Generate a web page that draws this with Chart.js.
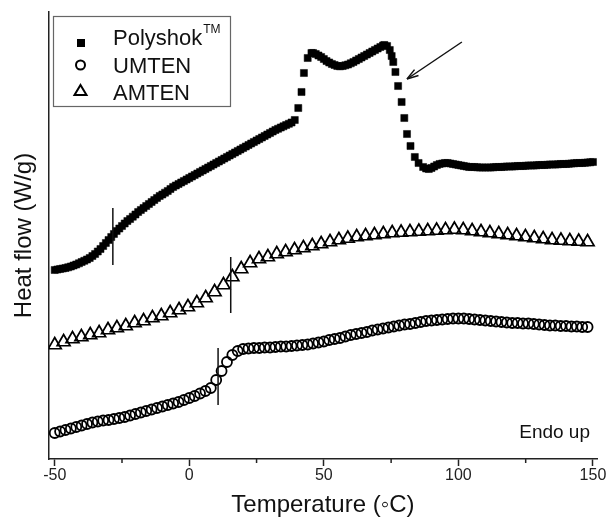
<!DOCTYPE html>
<html>
<head>
<meta charset="utf-8">
<script src="https://cdn.jsdelivr.net/npm/chart.js@4/dist/chart.umd.min.js"></script>
<style>
  html, body { margin: 0; padding: 0; background: #fff; }
</style>
</head>
<body>
<canvas id="myChart" width="608" height="518"></canvas>
<script>
// Polyshok (filled squares)
const polyT = [
  -50, -49, -48, -47, -46, -45, -44, -43, -42, -41,
  -40, -39, -38, -37, -36, -35, -34, -33, -32, -31,
  -30, -29, -28, -27, -26, -25, -24, -23, -22, -21,
  -20, -19, -18, -17, -16, -15, -14, -13, -12, -11,
  -10, -9, -8, -7, -6, -5, -4, -3, -2, -1,
  0, 1, 2, 3, 4, 5, 6, 7, 8, 9,
  10, 11, 12, 13, 14, 15, 16, 17, 18, 19,
  20, 21, 22, 23, 24, 25, 26, 27, 28, 29,
  30, 31, 32, 33, 34, 35, 36, 37, 38,
  39.2, 40.5, 41.7, 42.6, 44, 45.4,
  46, 47, 48, 49, 50, 51, 52, 53, 54, 55,
  56, 57, 58, 59, 60, 61, 62, 63, 64, 65,
  66, 67, 68, 69, 70, 71, 72, 72.5, 73.5, 74.5, 75.2,
  75.8, 76.6, 77.6, 78.9, 79.9, 80.9, 82.2, 83.8, 85.2, 86.9,
  88, 89, 90, 91, 92, 93, 94, 95, 96, 97,
  98, 99, 100, 101, 102, 103, 104, 105, 106, 107,
  108, 109, 110, 111, 112, 113, 114, 115, 116, 117,
  118, 119, 120, 121, 122, 123, 124, 125, 126, 127,
  128, 129, 130, 131, 132, 133, 134, 135, 136, 137,
  138, 139, 140, 141, 142, 143, 144, 145, 146, 147, 148, 149, 150];
const polyHF = [
  230, 230.5, 231, 231.5, 232, 232.7, 233.5, 234.5, 235.5, 236.7,
  238, 239.2, 240.5, 242, 244, 246, 248.5, 251, 254, 257,
  260, 263, 266, 269, 271.5, 274, 276.5, 279, 281, 283.3,
  285.5, 288, 290, 292, 294, 296, 298, 300, 302, 304,
  305.5, 307.3, 309, 311, 313, 314.5, 316, 317.5, 319, 320.5,
  322, 323.5, 325, 326.5, 328, 329.5, 331, 332.5, 334, 335.5,
  337, 338.5, 340, 341.5, 343, 344.5, 346, 347.5, 349, 350.5,
  352, 353.5, 355, 356.5, 358, 359.5, 361, 362.5, 364, 365.5,
  367, 368.5, 370, 371.2, 372.5, 373.7, 375, 376.2, 377.5,
  380, 392, 408, 427, 442, 447,
  447, 446, 444.5, 443, 441, 439, 437.5, 436, 435, 434,
  433.7, 434, 434.7, 435.5, 436.7, 438, 439.5, 441, 442.5, 444,
  445.5, 447, 448.5, 450, 451.5, 453, 454.5, 455, 454, 450, 444,
  438, 428, 414, 398, 382, 366, 354, 343, 337, 333,
  331.5, 331, 332, 333.5, 335, 336, 336.5, 337, 337, 336.5,
  336, 335.5, 335, 334.5, 334, 333.5, 333, 333, 333, 332.7,
  332.5, 332.5, 332.5, 332.5, 332.5, 332.7, 333, 333, 333, 333.2,
  333.5, 333.5, 333.5, 333.7, 334, 334, 334, 334.2, 334.5, 334.5,
  334.5, 334.7, 335, 335, 335, 335.2, 335.5, 335.5, 335.5, 335.7,
  336, 336, 336, 336.2, 336.5, 336.7, 337, 337, 337, 337.2, 337.5, 337.7, 338];

// UMTEN (open circles)
const umtenT = [-50, -48, -46, -44, -42, -40, -38, -36, -34, -32, -30, -28, -26, -24, -22, -20, -18, -16, -14, -12,
  -10, -8, -6, -4, -2, 0, 2, 4, 6, 8, 10, 12, 14, 16, 18, 20, 22, 24, 26, 28, 30, 32, 34, 36, 38, 40, 42, 44, 46, 48,
  50, 52, 54, 56, 58, 60, 62, 64, 66, 68, 70, 72, 74, 76, 78, 80, 82, 84, 86, 88, 90, 92, 94, 96, 98,
  100, 102, 104, 106, 108, 110, 112, 114, 116, 118, 120, 122, 124, 126, 128, 130, 132, 134, 136, 138, 140, 142, 144, 146, 148];
const umtenHF = [67, 68.5, 70, 71.5, 73, 74.5, 76, 77.5, 78.5, 79.5, 80, 81, 82, 83, 84.5, 86, 87.5, 89, 90.5, 92,
  93.5, 95, 96.5, 98, 100, 102, 104, 106.5, 109, 112, 120, 129, 138, 145, 149, 151, 151.5, 152, 152, 152.5, 152.5, 153, 153.5, 153.5, 154, 154.5, 155, 155.5, 156.5, 157.5,
  158.5, 160, 161, 162, 163.5, 165, 166, 167, 168, 169.5, 170.5, 171.5, 172.5, 173.5, 174.5, 175.5, 176, 177, 178, 179, 179.5, 180, 180.5, 181, 181.5,
  181.5, 181.5, 181, 180.5, 180, 179.5, 179, 178.5, 178, 177.5, 177, 177, 176.5, 176.5, 176, 175.5, 175, 174.5, 174.5, 174, 174, 173.5, 173.5, 173, 173];

// AMTEN (open triangles)
const amtenT = [-50, -46.7, -43.4, -40.1, -36.8, -33.5, -30.2, -26.9, -23.6, -20.3, -17, -13.7, -10.4, -7.1, -3.8, -0.5,
  2.8, 6.1, 9.4, 12.7, 16, 19.3, 22.6, 25.9, 29.2, 32.5, 35.8, 39.1, 42.4, 45.7, 49, 52.3, 55.6, 58.9, 62.2, 65.5,
  68.8, 72.1, 75.4, 78.7, 82, 85.3, 88.6, 91.9, 95.2, 98.5, 101.8, 105.1, 108.4, 111.7, 115, 118.3, 121.6, 124.9,
  128.2, 131.5, 134.8, 138.1, 141.4, 144.7, 148];
const amtenHF = [155, 158, 161, 163, 165, 167, 170, 172, 174, 177, 179, 182, 184, 187, 190, 193,
  197, 202, 208, 215, 223, 231, 237, 241, 243, 246, 248, 250, 252, 254, 256, 258, 260, 261.5, 263, 264,
  265, 266, 267, 267.5, 268, 268.5, 269, 269.5, 270, 270.5, 270, 269, 268, 267, 266, 265, 264, 263,
  262, 261, 260, 259.5, 259, 258.5, 258];

// glass transition markers: [temperature, low, high]
const tgPoly = [-28.4, 235, 292];
const tgAmten = [15.4, 187, 243];
const tgUmten = [10.7, 95, 152];

const xTicks = [-50, -25, 0, 25, 50, 75, 100, 125, 150];
const arrowFrom = [101.3, 458];
const arrowTo = [80.9, 421];

const FONT = "'Liberation Sans', Arial, Helvetica, sans-serif";
const INK = '#111';

function pts(xs, ys) {
  return xs.map((x, i) => ({ x: x, y: ys[i] }));
}
function tgLine(tg) {
  return {
    data: [{ x: tg[0], y: tg[1] }, { x: tg[0], y: tg[2] }],
    showLine: true, borderColor: INK, borderWidth: 1.5, pointRadius: 0
  };
}

const decorPlugin = {
  id: 'decor',
  afterDraw(chart) {
    const ctx = chart.ctx;
    const xs = chart.scales.x, ys = chart.scales.y;
    const area = chart.chartArea;
    ctx.save();

    // minor ticks
    ctx.strokeStyle = '#222';
    ctx.lineWidth = 1.5;
    xTicks.filter(v => v % 50 !== 0).forEach(v => {
      const px = xs.getPixelForValue(v);
      ctx.beginPath();
      ctx.moveTo(px, area.bottom);
      ctx.lineTo(px, area.bottom + 4);
      ctx.stroke();
    });

    // arrow
    const x1 = xs.getPixelForValue(arrowFrom[0]), y1 = ys.getPixelForValue(arrowFrom[1]);
    const x2 = xs.getPixelForValue(arrowTo[0]), y2 = ys.getPixelForValue(arrowTo[1]);
    ctx.strokeStyle = INK;
    ctx.lineWidth = 1.5;
    ctx.beginPath();
    ctx.moveTo(x1, y1);
    ctx.lineTo(x2, y2);
    ctx.stroke();
    const ang = Math.atan2(y2 - y1, x2 - x1);
    ctx.beginPath();
    ctx.moveTo(x2, y2);
    ctx.lineTo(x2 - 12 * Math.cos(ang - 0.3), y2 - 12 * Math.sin(ang - 0.3));
    ctx.moveTo(x2, y2);
    ctx.lineTo(x2 - 12 * Math.cos(ang + 0.3), y2 - 12 * Math.sin(ang + 0.3));
    ctx.stroke();

    // Endo up
    ctx.fillStyle = INK;
    ctx.font = '19px ' + FONT;
    ctx.textAlign = 'right';
    ctx.textBaseline = 'alphabetic';
    ctx.fillText('Endo up', area.right - 7, 438);

    // legend box
    ctx.strokeStyle = '#666';
    ctx.lineWidth = 1.2;
    ctx.strokeRect(53.5, 16.5, 177, 90);

    ctx.fillStyle = '#000';
    ctx.fillRect(77, 39, 8, 8);
    ctx.strokeStyle = '#000';
    ctx.lineWidth = 2;
    ctx.beginPath();
    ctx.arc(80.5, 65, 4.5, 0, Math.PI * 2);
    ctx.stroke();
    ctx.beginPath();
    ctx.moveTo(80.5, 85);
    ctx.lineTo(86.5, 95);
    ctx.lineTo(74.5, 95);
    ctx.closePath();
    ctx.stroke();

    ctx.fillStyle = INK;
    ctx.textAlign = 'left';
    ctx.font = '22px ' + FONT;
    ctx.fillText('Polyshok', 113, 45);
    const w = ctx.measureText('Polyshok').width;
    ctx.font = '12px ' + FONT;
    ctx.fillText('TM', 113 + w + 1, 33);
    ctx.font = '22px ' + FONT;
    ctx.fillText('UMTEN', 113, 73);
    ctx.fillText('AMTEN', 113, 100);
    ctx.restore();
  }
};

const ctx = document.getElementById('myChart').getContext('2d');
const myChart = new Chart(ctx, {
  type: 'scatter',
  data: {
    datasets: [
      tgLine(tgPoly),
      tgLine(tgAmten),
      tgLine(tgUmten),
      {
        label: 'Polyshok',
        data: pts(polyT, polyHF),
        pointStyle: 'rect',
        pointRadius: 5,
        pointBackgroundColor: '#000',
        pointBorderColor: '#000',
        pointBorderWidth: 0.5
      },
      {
        label: 'UMTEN',
        data: pts(umtenT, umtenHF),
        pointStyle: 'circle',
        pointRadius: 5,
        pointBackgroundColor: 'rgba(0,0,0,0)',
        pointBorderColor: '#000',
        pointBorderWidth: 1.8
      },
      {
        label: 'AMTEN',
        data: pts(amtenT, amtenHF),
        pointStyle: 'triangle',
        pointRadius: 7.5,
        pointBackgroundColor: 'rgba(0,0,0,0)',
        pointBorderColor: '#000',
        pointBorderWidth: 1.7
      }
    ]
  },
  options: {
    responsive: false,
    animation: false,
    layout: { padding: { top: 12, right: 11, left: 0, bottom: 0 } },
    plugins: { legend: { display: false }, tooltip: { enabled: false } },
    scales: {
      x: {
        type: 'linear',
        min: -52.2,
        max: 151.5,
        afterBuildTicks: s => { s.ticks = xTicks.map(v => ({ value: v })); },
        ticks: {
          callback: v => (v % 50 === 0 ? String(v) : ''),
          font: { family: FONT, size: 16 },
          color: '#222',
          padding: 0,
          maxRotation: 0,
          autoSkip: false
        },
        grid: {
          drawOnChartArea: false,
          tickLength: 7,
          tickWidth: 1.5,
          tickColor: c => (c.tick && c.tick.value % 50 === 0 ? '#222' : 'rgba(0,0,0,0)')
        },
        border: { color: '#222', width: 1.5 },
        title: {
          display: true,
          text: 'Temperature (◦C)',
          font: { family: FONT, size: 24 },
          color: INK,
          padding: { top: 6, bottom: -2 }
        }
      },
      y: {
        min: 41,
        max: 488,
        ticks: { display: false },
        grid: { drawOnChartArea: false, drawTicks: false },
        border: { color: '#222', width: 1.5 },
        title: {
          display: true,
          text: 'Heat flow (W/g)',
          font: { family: FONT, size: 24 },
          color: INK,
          padding: { top: 10, bottom: 10 }
        }
      }
    }
  },
  plugins: [decorPlugin]
});
</script>
</body>
</html>
